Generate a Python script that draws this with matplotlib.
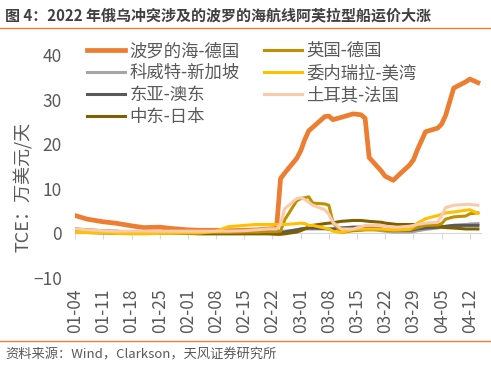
import matplotlib
matplotlib.use('Agg')
import matplotlib.pyplot as plt
import pandas as pd
from matplotlib.lines import Line2D

plt.rcParams['font.family'] = ['Noto Sans CJK SC', 'DejaVu Sans']

dates = pd.to_datetime([
    '2022-01-04', '2022-01-07', '2022-01-11', '2022-01-14', '2022-01-18', '2022-01-21',
    '2022-01-25', '2022-01-28', '2022-02-01', '2022-02-04', '2022-02-08', '2022-02-11',
    '2022-02-15', '2022-02-18', '2022-02-21', '2022-02-23', '2022-02-24', '2022-02-25',
    '2022-02-28', '2022-03-01', '2022-03-02', '2022-03-03', '2022-03-04', '2022-03-07',
    '2022-03-08', '2022-03-09', '2022-03-11', '2022-03-14', '2022-03-16', '2022-03-17',
    '2022-03-18', '2022-03-21', '2022-03-22', '2022-03-24', '2022-03-25', '2022-03-28',
    '2022-03-29', '2022-03-30', '2022-04-01', '2022-04-04', '2022-04-05', '2022-04-06',
    '2022-04-08', '2022-04-11', '2022-04-12', '2022-04-14'])

baltic_germany = [4.0, 3.2, 2.6, 2.3, 1.7, 1.3, 1.4, 1.1, 0.8, 0.7, 0.7, 0.6,
                  0.7, 0.8, 1.0, 1.1, 12.3, 13.5, 16.8, 18.5, 21.0, 23.0, 23.8, 26.2,
                  26.3, 25.5, 26.0, 26.8, 26.6, 25.8, 17.0, 14.0, 12.8, 11.9, 12.8, 15.3,
                  16.5, 18.8, 22.8, 23.6, 24.5, 26.5, 32.6, 34.0, 34.6, 33.8]
kuwait_singapore = [0.6, 0.5, 0.4, 0.4, 0.3, 0.3, 0.3, 0.3, 0.3, 0.3, 0.3, 0.3,
                    0.3, 0.3, 0.3, 0.4, 0.4, 0.5, 0.8, 0.9, 1.0, 1.0, 1.0, 1.0,
                    1.0, 1.0, 1.2, 1.2, 1.2, 1.2, 1.1, 0.6, 0.5, 0.3, 0.3, 0.3,
                    0.4, 0.6, 0.9, 1.2, 1.4, 1.5, 1.8, 2.0, 2.1, 2.2]
eastasia_australia = [0.3, 0.2, 0.1, 0.0, 0.0, 0.0, 0.0, 0.0, 0.0, 0.0, 0.0, 0.0,
                      0.0, 0.0, 0.0, 0.1, 0.2, 0.3, 0.8, 1.0, 1.1, 1.2, 1.2, 1.1,
                      1.0, 1.0, 1.2, 1.4, 1.4, 1.4, 1.4, 1.0, 0.8, 0.7, 0.7, 0.7,
                      0.8, 1.0, 1.2, 1.4, 1.5, 1.6, 1.8, 1.8, 1.8, 1.8]
mideast_japan = [1.0, 0.8, 0.6, 0.5, 0.3, 0.2, 0.0, 0.0, 0.0, -0.1, -0.1, -0.1,
                 -0.1, -0.1, -0.1, -0.2, -0.2, -0.1, 0.3, 0.6, 1.0, 1.5, 1.8, 2.2,
                 2.3, 2.4, 2.7, 2.9, 2.9, 2.8, 2.7, 2.5, 2.3, 2.1, 2.0, 2.0,
                 2.0, 1.9, 1.8, 1.5, 1.4, 1.3, 1.2, 1.0, 1.0, 1.0]
uk_germany = [0.8, 0.7, 0.5, 0.4, 0.3, 0.2, 0.2, 0.2, 0.2, 0.2, 0.2, 0.2,
              0.3, 0.3, 0.4, 0.4, 0.5, 3.0, 7.3, 7.8, 8.0, 8.2, 6.8, 6.6,
              6.3, 2.5, 0.2, 0.6, 0.7, 0.8, 0.8, 0.8, 0.7, 0.6, 0.7, 0.8,
              1.0, 1.3, 1.8, 1.9, 2.2, 3.2, 3.7, 3.9, 4.4, 4.6]
venezuela_usgulf = [0.2, 0.2, 0.1, 0.0, -0.1, -0.1, 0.0, 0.0, 0.1, 0.1, 0.5, 1.5,
                    1.8, 2.0, 2.0, 2.0, 2.0, 2.0, 2.2, 2.3, 2.2, 1.8, 1.8, 1.2,
                    1.0, 0.5, 0.2, 0.9, 1.0, 1.0, 1.0, 1.0, 0.9, 0.8, 0.8, 0.9,
                    1.5, 2.3, 3.3, 4.0, 4.3, 4.6, 4.8, 5.2, 5.3, 4.5]
turkey_france = [1.0, 0.8, 0.6, 0.5, 0.5, 0.5, 0.5, 0.5, 0.5, 0.5, 0.5, 0.5,
                 0.6, 0.8, 1.0, 1.0, 2.0, 5.5, 7.8, 8.0, 7.6, 7.0, 6.3, 5.3,
                 4.3, 2.5, 1.0, 1.0, 1.5, 1.8, 1.8, 1.8, 1.6, 1.4, 1.4, 1.6,
                 1.8, 2.0, 2.3, 2.5, 4.0, 5.8, 6.3, 6.5, 6.5, 6.3]

series_names = ['波罗的海-德国', '科威特-新加坡', '东亚-澳东', '中东-日本',
                '英国-德国', '委内瑞拉-美湾', '土耳其-法国']
series_values = [baltic_germany, kuwait_singapore, eastasia_australia, mideast_japan,
                 uk_germany, venezuela_usgulf, turkey_france]
series_colors = ['#ED7D31', '#A5A5A5', '#595959', '#7F6000',
                 '#BF9000', '#FFC000', '#F8CBAD']
series_widths = [3.4, 2.2, 2.2, 2.2, 2.2, 2.2, 2.2]

tick_labels = ['01-04', '01-11', '01-18', '01-25', '02-01', '02-08', '02-15', '02-22',
               '03-01', '03-08', '03-15', '03-22', '03-29', '04-05', '04-12']
yticks = [-10, 0, 10, 20, 30, 40]

fig = plt.figure(figsize=(4.91, 3.67), dpi=100)
ax = fig.add_axes([0.153, 0.2425, 0.8265, 0.6076])

for name, vals, c, w in zip(series_names, series_values, series_colors, series_widths):
    ax.plot(dates, vals, color=c, lw=w, label=name, solid_joinstyle='round')

ax.set_ylim(-10, 40)
ax.set_xlim(pd.Timestamp('2022-01-04'), pd.Timestamp('2022-04-14 18:00'))
ax.set_yticks(yticks)
tick_pos = pd.to_datetime(['2022-' + t for t in tick_labels])
ax.set_xticks(tick_pos)
ax.set_xticklabels(tick_labels)

for s in ['top', 'right', 'left']:
    ax.spines[s].set_visible(False)
ax.spines['bottom'].set_position(('data', 0))
ax.spines['bottom'].set_color('#D9D9D9')
ax.spines['bottom'].set_linewidth(0.8)
ax.spines['bottom'].set_zorder(0)
ax.tick_params(axis='x', direction='out', length=4, color='#D9D9D9', width=0.8, pad=35.5,
               labelrotation=90, labelsize=12.5, labelcolor='#595959')
ax.tick_params(axis='y', length=0, pad=9.5, labelsize=12.5, labelcolor='#595959')

fig.text(0.047, 0.49, 'TCE：万美元/天', rotation=90, va='center', ha='center',
         fontsize=13, color='#595959')

leg = ax.legend(loc='upper left', bbox_to_anchor=(0.177, 0.885), bbox_transform=fig.transFigure,
                ncol=2, frameon=False, fontsize=12.5, handlelength=2.2, handletextpad=0.25,
                columnspacing=1.4, labelspacing=0.22, borderpad=0, borderaxespad=0)
for t in leg.get_texts():
    t.set_color('#595959')

fig.text(0.01, 1 - 15 / 367, '图 4：2022 年俄乌冲突涉及的波罗的海航线阿芙拉型船运价大涨',
         fontsize=10.8, fontweight='bold', color='#404040', va='center', ha='left')
fig.add_artist(Line2D([0, 1], [1 - 28 / 367] * 2, color='#ED7D31', lw=1.0))
fig.add_artist(Line2D([0, 1], [1 - 341 / 367] * 2, color='#ED7D31', lw=1.0))
fig.text(0.01, 1 - 355 / 367, '资料来源：Wind，Clarkson，天风证券研究所',
         fontsize=9.5, color='#595959', va='center', ha='left')

fig.savefig('out.png', dpi=100)
